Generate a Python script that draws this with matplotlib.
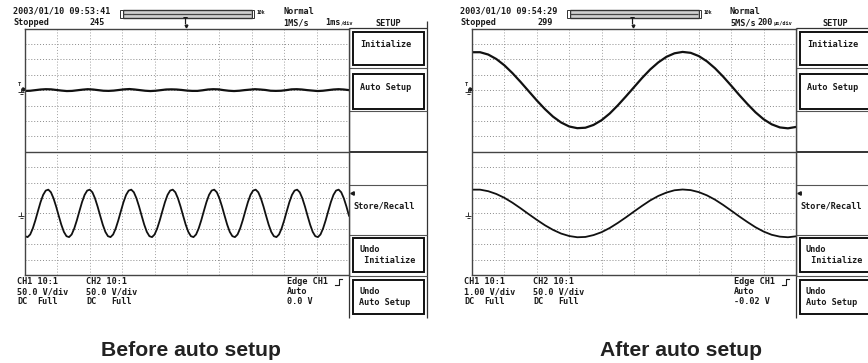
import numpy as np
import matplotlib.pyplot as plt
from matplotlib.patches import Rectangle

# waveforms read off the screens, in divisions from the channel centre
# before auto setup (1 ms/div)
ch1_before = [-0.05, -0.04, 0.00, 0.04, 0.06, 0.05, 0.01, -0.03,
              -0.06, -0.05, -0.01, 0.03, 0.06, 0.04, 0.00, -0.04,
              -0.05, -0.03, 0.01, 0.05, 0.07, 0.04, 0.00, -0.04,
              -0.06, -0.04, 0.00, 0.04, 0.05, 0.04, 0.01, -0.03,
              -0.05, -0.05, -0.01, 0.04, 0.06, 0.05, 0.00, -0.04,
              -0.06, -0.04, 0.00, 0.03, 0.06, 0.04, 0.01, -0.04,
              -0.05, -0.04, 0.00, 0.05, 0.06, 0.04, 0.00, -0.03,
              -0.06, -0.04, 0.00, 0.04, 0.06, 0.04, 0.00]
ch2_before = [-1.48, -1.54, -1.37, -0.98, -0.45, 0.15, 0.73, 1.20, 1.48, 1.54, 1.37, 0.98, 0.45, -0.15, -0.73, -1.20,
              -1.48, -1.54, -1.37, -0.98, -0.45, 0.15, 0.73, 1.20, 1.48, 1.54, 1.37, 0.98, 0.45, -0.15, -0.73, -1.20,
              -1.48, -1.54, -1.37, -0.98, -0.45, 0.15, 0.73, 1.20, 1.48, 1.54, 1.37, 0.98, 0.45, -0.15, -0.73, -1.20,
              -1.48, -1.54, -1.37, -0.98, -0.45, 0.15, 0.73, 1.20, 1.48, 1.54, 1.37, 0.98, 0.45, -0.15, -0.73, -1.20,
              -1.48, -1.54, -1.37, -0.98, -0.45, 0.15, 0.73, 1.20, 1.48, 1.54, 1.37, 0.98, 0.45, -0.15, -0.73, -1.20,
              -1.48, -1.54, -1.37, -0.98, -0.45, 0.15, 0.73, 1.20, 1.48, 1.54, 1.37, 0.98, 0.45, -0.15, -0.73, -1.20,
              -1.48, -1.54, -1.37, -0.98, -0.45, 0.15, 0.73, 1.20, 1.48, 1.54, 1.37, 0.98, 0.45, -0.15, -0.73, -1.20,
              -1.48, -1.54, -1.37, -0.98, -0.45, 0.15, 0.73, 1.20, 1.48, 1.54, 1.37, 0.98, 0.45, -0.15]
# after auto setup (200 us/div), one sample every 0.25 div
ch1_after = [2.46, 2.46, 2.31, 2.02, 1.61, 1.10, 0.53, -0.07, -0.67, -1.23, -1.72, -2.10, -2.36, -2.47,
             -2.44, -2.26, -1.95, -1.52, -0.99, -0.41, 0.19, 0.79, 1.34, 1.80, 2.16, 2.39, 2.48, 2.42,
             2.21, 1.87, 1.42, 0.88, 0.29, -0.32, -0.90, -1.44, -1.89, -2.22, -2.42, -2.48, -2.39]
ch2_after = [1.54, 1.54, 1.44, 1.26, 1.01, 0.69, 0.33, -0.05, -0.42, -0.77, -1.07, -1.31, -1.47, -1.55,
             -1.53, -1.41, -1.22, -0.95, -0.62, -0.26, 0.12, 0.49, 0.84, 1.13, 1.35, 1.50, 1.55, 1.51,
             1.38, 1.17, 0.89, 0.55, 0.18, -0.20, -0.56, -0.90, -1.18, -1.39, -1.51, -1.55, -1.49]

menu_items = ['Initialize', 'Auto Setup', 'Store/Recall', 'Undo\n Initialize', 'Undo\nAuto Setup']

W, H = 868, 363
MONO = 'DejaVu Sans Mono'
FS = 6.1
INK = '#1a1a1a'

fig = plt.figure(figsize=(W / 100, H / 100), dpi=100)
ov = fig.add_axes([0, 0, 1, 1])
ov.set_xlim(0, W)
ov.set_ylim(H, 0)
ov.axis('off')


def txt(x, y, s, size=FS, **kw):
    kw.setdefault('ha', 'left')
    ov.text(x, y, s, fontsize=size, family=MONO, fontweight='bold', color=INK, va='center', **kw)


def hline(x1, x2, y, lw=0.9, c='#333333'):
    ov.plot([x1, x2], [y, y], color=c, lw=lw, solid_capstyle='butt')


def vline(x, y1, y2, lw=0.9, c='#333333'):
    ov.plot([x, x], [y1, y2], color=c, lw=lw, solid_capstyle='butt')


def ground(x, y, trig=False):
    vline(x, y - 4, y, lw=0.7)
    hline(x - 3, x + 3, y, lw=0.7)
    hline(x - 1.5, x + 1.5, y + 2, lw=0.7)
    if trig:
        txt(x - 3, y - 7, 'T', size=4)
        ov.plot([x + 3], [y - 3], marker='>', ms=2.5, color=INK)


def screen(x0, stamp, count, rate, tdiv, tdiv_unit, ch1_vdiv, trig_lvl, top, bottom):
    # header
    txt(x0 - 12, 11.5, stamp)
    txt(x0 - 12, 22.5, 'Stopped')
    txt(x0 + 65, 22.5, count)
    # record bar
    ov.add_patch(Rectangle((x0 + 97.5, 9.5), 129, 8, fc='#d0d0d0', ec='#333333', lw=1.0))
    hline(x0 + 98, x0 + 226, 13.5, lw=0.9, c='#444444')
    ov.add_patch(Rectangle((x0 + 95, 9.5), 2.5, 8, fc='white', ec='#333333', lw=0.7))
    ov.add_patch(Rectangle((x0 + 226.5, 9.5), 2.5, 8, fc='white', ec='#333333', lw=0.7))
    txt(x0 + 232, 13, '10k', size=3.5)
    txt(x0 + 160, 21.5, 'T', ha='center')
    ov.plot([x0 + 161], [25.5], marker='v', ms=2, color=INK)
    txt(x0 + 258, 11.5, 'Normal')
    txt(x0 + 258, 22.5, rate)
    txt(tdiv[1], 22.5, tdiv[0])
    txt(tdiv[1] + 5.1 * len(tdiv[0]), 23, tdiv_unit, size=3.8)
    txt(x0 + 162, 33, '<< Main 10k >>', size=3.8, ha='center')

    # plot area
    ax = fig.add_axes([x0 / W, (H - 275) / H, 324 / W, 246.5 / H])
    ax.set_xlim(0, 10)
    ax.set_ylim(-8, 8)
    ax.set_xticks([])
    ax.set_yticks([])
    for s in ax.spines.values():
        s.set_color('#444444')
        s.set_linewidth(1.0)
    for k in range(1, 10):
        ax.axvline(k, color='#a0a0a0', lw=0.7, ls=(0, (1, 2)))
    for k in range(-7, 8):
        if k:
            ax.axhline(k, color='#8a8a8a', lw=0.7, ls=(0, (1, 2)))
    ax.axhline(0, color='#444444', lw=1.0)
    ax.plot(np.linspace(0, 10, len(top)), np.array(top) + 4, color='#111111', lw=1.6)
    ax.plot(np.linspace(0, 10, len(bottom)), np.array(bottom) - 4, color='#111111', lw=1.3)
    ground(x0 - 4, 92, trig=True)
    ground(x0 - 4, 216)

    # footer
    txt(x0 - 8, 282, 'CH1 10:1')
    txt(x0 - 8, 292, ch1_vdiv)
    txt(x0 - 8, 302, 'DC')
    txt(x0 + 12, 302, 'Full')
    txt(x0 + 61, 282, 'CH2 10:1')
    txt(x0 + 61, 292, '50.0 V/div')
    txt(x0 + 61, 302, 'DC')
    txt(x0 + 86, 302, 'Full')
    txt(x0 + 262, 282, 'Edge CH1')
    ex = x0 + 314
    ov.plot([ex - 4, ex, ex, ex + 3], [285, 285, 279, 279], color=INK, lw=0.8)
    txt(x0 + 262, 292, 'Auto')
    txt(x0 + 262, 302, trig_lvl)

    # SETUP menu
    m = x0 + 324
    vline(m, 28, 318)
    vline(m + 78, 21, 318)
    hline(m, m + 78, 28)
    txt(m + 39, 23.5, 'SETUP', ha='center')
    for y in (68, 111, 185, 235, 276):
        hline(m, m + 78, y, lw=0.8, c='#555555')
    hline(m, m + 78, 152, lw=1.4, c='#333333')
    boxes = [(32, 65, menu_items[0]), (74, 109, menu_items[1]),
             (238, 272, menu_items[3]), (280, 314, menu_items[4])]
    for y1, y2, label in boxes:
        ov.add_patch(Rectangle((m + 4, y1), 71, y2 - y1, fc='white', ec='#111111', lw=1.4))
        lines = label.split('\n')
        if len(lines) == 1:
            txt(m + 11, (y1 + y2) / 2 - 4, lines[0])
        else:
            txt(m + 10, y1 + 12, lines[0])
            txt(m + 10, y1 + 22.5, lines[1])
    ov.plot([m + 3], [193], marker='<', ms=2.5, color=INK)
    txt(m + 4, 206, menu_items[2])
    return ax


screen(25, '2003/01/10 09:53:41', '245', '1MS/s', ('1ms', 325), '/div',
       '50.0 V/div', '0.0 V', ch1_before, ch2_before)
screen(472, '2003/01/10 09:54:29', '299', '5MS/s', ('200', 758), '\u00b5s/div',
       '1.00 V/div', '-0.02 V', ch1_after, ch2_after)

ov.text(191, 350, 'Before auto setup', fontsize=15.2, family='Liberation Sans',
        fontweight='bold', color='#222222', ha='center', va='center')
ov.text(681, 350, 'After auto setup', fontsize=15.2, family='Liberation Sans',
        fontweight='bold', color='#222222', ha='center', va='center')

fig.savefig('out.png', dpi=100)
